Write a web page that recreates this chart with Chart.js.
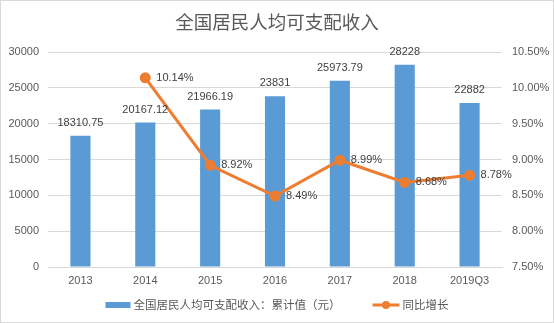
<!DOCTYPE html>
<html><head><meta charset="utf-8">
<script src="https://cdn.jsdelivr.net/npm/chart.js@4/dist/chart.umd.min.js"></script>
<style>
html,body{margin:0;padding:0;background:#fff;}
#wrap{position:relative;width:552px;height:321px;border:1px solid #d9d9d9;}
</style></head>
<body><div id="wrap"><canvas id="c" width="552" height="321"></canvas></div>
<script>
const categories = ['2013','2014','2015','2016','2017','2018','2019Q3'];
const incomeValues = [18310.75, 20167.12, 21966.19, 23831, 25973.79, 28228, 22882];
const incomeLabels = ['18310.75','20167.12','21966.19','23831','25973.79','28228','22882'];
const growthValues = [null, 10.14, 8.92, 8.49, 8.99, 8.68, 8.78];
const seriesNames = ['全国居民人均可支配收入：累计值（元）', '同比增长'];
const titleText = '全国居民人均可支配收入';

const FONT = "'Liberation Sans','Noto Sans CJK SC',sans-serif";
const CJK = "'Noto Sans CJK SC',sans-serif";
const TXT = '#595959';
const BLUE = '#5B9BD5', ORANGE = '#ED7D31';

const labelPlugin = {
  id:'labels',
  afterDatasetsDraw(chart){
    const ctx=chart.ctx;
    ctx.save();
    ctx.font="11px "+FONT;
    ctx.fillStyle='#404040';
    chart.getDatasetMeta(1).data.forEach((el,i)=>{
      ctx.textAlign='center';ctx.textBaseline='middle';
      ctx.fillText(incomeLabels[i], el.x, el.y-13);
    });
    chart.getDatasetMeta(0).data.forEach((el,i)=>{
      if(growthValues[i]==null) return;
      ctx.textAlign='left';ctx.textBaseline='middle';
      ctx.fillText(growthValues[i].toFixed(2)+'%', el.x+11, el.y);
    });
    ctx.restore();
  },
  afterDraw(chart){
    const ctx=chart.ctx, W=chart.width;
    ctx.save();
    ctx.font="18.5px "+CJK; ctx.fillStyle=TXT; ctx.textAlign='center'; ctx.textBaseline='middle';
    ctx.fillText(titleText, W/2, 21);
    ctx.font="11.5px "+CJK; ctx.textAlign='left';
    const sw=25, gap=3, itemGap=32;
    const w0=ctx.measureText(seriesNames[0]).width, w1=ctx.measureText(seriesNames[1]).width;
    const total=sw+gap+w0+itemGap+27+gap+w1;
    let x=W/2-total/2; const y=304;
    ctx.fillStyle=BLUE; ctx.fillRect(x,y-3,sw,6);
    ctx.fillStyle=TXT; ctx.fillText(seriesNames[0], x+sw+gap, y);
    x+=sw+gap+w0+itemGap;
    ctx.strokeStyle=ORANGE; ctx.lineWidth=3; ctx.beginPath(); ctx.moveTo(x,y); ctx.lineTo(x+27,y); ctx.stroke();
    ctx.fillStyle=ORANGE; ctx.beginPath(); ctx.arc(x+13.5,y,4,0,Math.PI*2); ctx.fill();
    ctx.fillStyle=TXT; ctx.fillText(seriesNames[1], x+27+gap, y);
    ctx.restore();
  }
};

new Chart(document.getElementById('c'),{
  data:{
    labels:categories,
    datasets:[
      {type:'line',label:seriesNames[1],data:growthValues,yAxisID:'y1',borderColor:ORANGE,backgroundColor:ORANGE,borderWidth:3,pointRadius:4,pointHoverRadius:4,pointStyle:'circle',order:0,pointBackgroundColor:ORANGE,spanGaps:false},
      {type:'bar',label:seriesNames[0],data:incomeValues,yAxisID:'y',backgroundColor:BLUE,barPercentage:0.31,categoryPercentage:1,order:1}
    ]
  },
  options:{
    responsive:false,animation:false,
    layout:{padding:{left:0,right:0,top:51,bottom:31}},
    plugins:{title:{display:false},legend:{display:false},tooltip:{enabled:false}},
    scales:{
      x:{grid:{display:false,drawTicks:false,tickLength:0},border:{color:'#d9d9d9'},ticks:{color:TXT,font:{family:FONT,size:11},padding:7},afterFit(s){s.height=24;}},
      y:{position:'left',min:0,max:30000,ticks:{stepSize:5000,color:TXT,font:{family:FONT,size:11},padding:9,callback:v=>String(v)},grid:{color:'#d9d9d9',drawTicks:false},border:{display:false},afterFit(s){s.width=47;}},
      y1:{position:'right',min:7.5,max:10.5,ticks:{stepSize:0.5,color:TXT,font:{family:FONT,size:11},padding:10,callback:v=>v.toFixed(2)+'%'},grid:{display:false,drawTicks:false},border:{display:false},afterFit(s){s.width=51;}}
    }
  },
  plugins:[labelPlugin]
});
</script></body></html>
